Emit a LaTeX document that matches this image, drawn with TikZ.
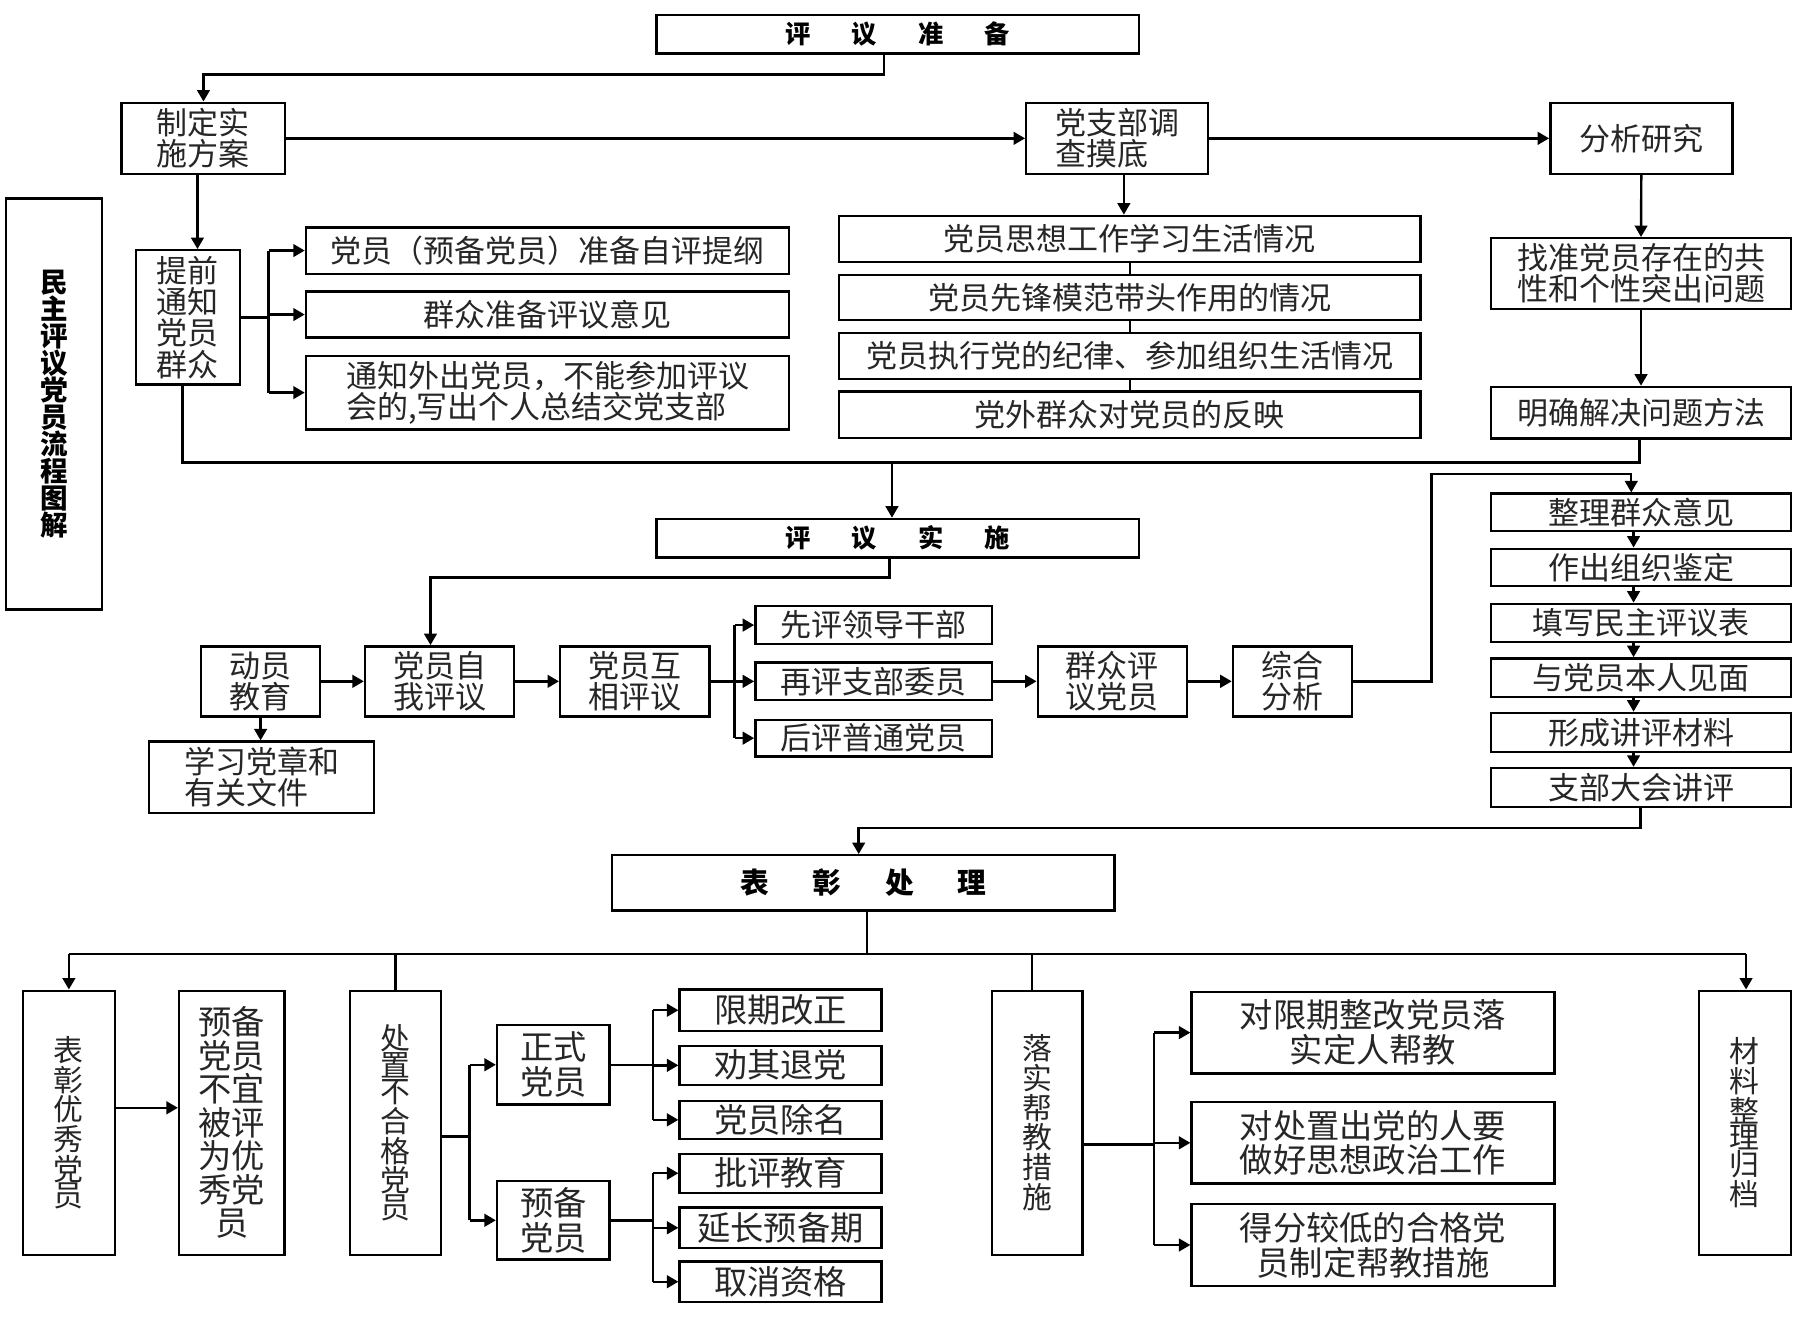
\documentclass[tikz,border=0pt]{standalone}
\usepackage{fontspec}
\setmainfont{Noto Sans CJK SC}
\usetikzlibrary{arrows.meta}
\newcommand{\tsp}{\hspace{18pt}}
\newcommand{\bsp}{\hspace{19pt}}
\newcommand{\bx}[7][]{\node[box,#1,minimum width={(#5-#3)*0.5pt},minimum height={(#6-#4)*0.5pt}] (#2) at ({(#3+#5)/2},{(#4+#6)/2}) {#7};}
\tikzset{
 box/.style={draw, line width=1.05pt, inner sep=0pt, align=center, font=\fontsize{13.5}{13.6}\selectfont, text=black!85},
 big/.style={font=\fontsize{14.5}{15.2}\selectfont},
 vt/.style={font=\fontsize{13}{11.6}\selectfont},
 title/.style={font=\bfseries\fontsize{11}{12}\selectfont, text=black},
 con/.style={line width=1.05pt},
 arr/.style={con, -{Triangle[length=5pt,width=5.5pt]}},
}
\begin{document}
\begin{tikzpicture}[x=0.5pt,y=-0.5pt]
\fill[white] (0,0) rectangle (1568,1153);
\useasboundingbox (0,0) rectangle (1568,1153);
% ---------- top section ----------
\bx[title]{pz}{572}{13}{992}{46.5}{评\tsp 议\tsp 准\tsp 备}
\bx{zd}{106}{89.5}{248.5}{151.5}{制定实\\施方案}
\bx[align=left]{dz}{894}{89.5}{1052.5}{151.5}{党支部调\\查摸底}
\bx{fx}{1350.5}{89.5}{1509}{151.5}{分析研究}
\bx{tq}{118.5}{218}{209}{335}{提前\\通知\\党员\\群众}
\bx{b1}{266.5}{198}{687.5}{238.5}{党员（预备党员）准备自评提纲}
\bx{b2}{266.5}{254}{687.5}{294}{群众准备评议意见}
\bx[align=left]{b3}{266.5}{310}{687.5}{374}{通知外出党员，不能参加评议\\会的,写出个人总结交党支部}
\bx{s1}{731}{188}{1237.5}{228}{党员思想工作学习生活情况}
\bx{s2}{731}{239.5}{1237.5}{279}{党员先锋模范带头作用的情况}
\bx{s3}{731}{290}{1237.5}{330}{党员执行党的纪律、参加组织生活情况}
\bx{s4}{731}{341}{1237.5}{381.5}{党外群众对党员的反映}
\bx{zz}{1299}{207.5}{1560}{269}{找准党员存在的共\\性和个性突出问题}
\bx{mq}{1299}{337}{1560}{382}{明确解决问题方法}
\bx[title,font=\bfseries\fontsize{12}{11.8}\selectfont]{mz}{5}{173}{89}{531}{民\\主\\评\\议\\党\\员\\流\\程\\图\\解}
% ---------- middle section ----------
\bx[title]{ss}{572}{452}{992}{485.5}{评\tsp 议\tsp 实\tsp 施}
\bx{dy}{175}{563}{279}{624}{动员\\教育}
\bx[align=left]{zw}{318}{563}{448}{624}{党员自\\我评议}
\bx[align=left]{hx}{488}{563}{618}{624}{党员互\\相评议}
\bx{p1}{658}{528}{864}{561}{先评领导干部}
\bx{p2}{658}{577}{864}{610}{再评支部委员}
\bx{p3}{658}{627}{864}{659}{后评普通党员}
\bx[align=left]{qz}{904}{563}{1034}{624}{群众评\\议党员}
\bx{zh}{1074}{563}{1177.5}{624}{综合\\分析}
\bx[align=left]{xx}{130}{646}{326}{708}{学习党章和\\有关文件}
\bx{r1}{1299}{430}{1560}{462.5}{整理群众意见}
\bx{r2}{1299}{478}{1560}{510.5}{作出组织鉴定}
\bx{r3}{1299}{526}{1560}{559}{填写民主评议表}
\bx{r4}{1299}{573.5}{1560}{607}{与党员本人见面}
\bx{r5}{1299}{621}{1560}{655}{形成讲评材料}
\bx{r6}{1299}{669}{1560}{703}{支部大会讲评}
% ---------- bottom section ----------
\bx[title,font=\bfseries\fontsize{12.5}{13}\selectfont]{bz}{533}{745}{971}{793}{表\bsp 彰\bsp 处\bsp 理}
\bx[vt]{by}{20}{863}{100}{1093}{表\\彰\\优\\秀\\党\\员}
\bx[big,font=\fontsize{14.5}{14.6}\selectfont]{yb}{156}{863}{248}{1093}{预备\\党员\\不宜\\被评\\为优\\秀党\\员}
\bx[vt]{cz}{305}{863}{384}{1093}{处\\置\\不\\合\\格\\党\\员}
\bx[big]{zs}{433}{893}{531}{962}{正式\\党员}
\bx[big]{yd}{433}{1029}{531}{1097}{预备\\党员}
\bx[big]{t1}{592}{862}{768}{898}{限期改正}
\bx[big]{t2}{592}{911}{768}{945}{劝其退党}
\bx[big]{t3}{592}{959}{768}{992}{党员除名}
\bx[big]{t4}{592}{1005}{768}{1039}{批评教育}
\bx[big]{t5}{592}{1052}{768}{1087}{延长预备期}
\bx[big]{t6}{592}{1099}{768}{1134}{取消资格}
\bx[vt]{ls}{864}{863}{943}{1093}{落\\实\\帮\\教\\措\\施}
\bx[big]{h1}{1038}{864}{1354}{935}{对限期整改党员落\\实定人帮教}
\bx[big]{h2}{1038}{960}{1354}{1031}{对处置出党的人要\\做好思想政治工作}
\bx[big]{h3}{1038}{1049}{1354}{1120}{得分较低的合格党\\员制定帮教措施}
\bx[vt]{cl}{1480}{863}{1560}{1093}{材\\料\\整\\理\\归\\档}
% ---------- connectors: top ----------
\draw[arr] (pz.south -| 770,0) -- ++(0,17.5) -| (zd.north);
\draw[arr] (zd.east) -- (dz.west);
\draw[arr] (dz.east) -- (fx.west);
\draw[arr] (zd.south -| 172,0) -- (tq.north -| 172,0);
\draw[con] (tq.east) -- (tq.east -| 234,0);
\draw[con] (b1.west -| 234,0) -- (b3.west -| 234,0);
\foreach \n in {b1,b2,b3} \draw[arr] (\n.west -| 234,0) -- (\n.west);
\draw[arr] (dz.south -| 979,0) -- (s1.north -| 979,0);
\draw[con] (s1.south) -- (s2.north);
\draw[con] (s2.south) -- (s3.north);
\draw[con] (s3.south) -- (s4.north);
\draw[arr] (fx.south) -- (zz.north);
\draw[arr] (zz.south) -- (mq.north);
\coordinate (m1) at (159,403);
\coordinate (m2) at (1428,403);
\coordinate (m3) at (777,403);
\draw[con] (tq.south -| m1) -- (m1) -- (m2) -- (mq.south -| m2);
\draw[arr] (m3) -- (ss.north -| m3);
% ---------- connectors: middle ----------
\coordinate (m4) at (775,503);
\draw[arr] (ss.south -| m4) -- (m4) -| (zw.north -| 375,0);
\draw[arr] (dy.east) -- (zw.west);
\draw[arr] (zw.east) -- (hx.west);
\draw[con] (hx.east) -- (hx.east -| 640,0);
\draw[con] (p1.west -| 640,0) -- (p3.west -| 640,0);
\foreach \n in {p1,p2,p3} \draw[arr] (\n.west -| 640,0) -- (\n.west);
\draw[arr] (p2.east) -- (qz.west);
\draw[arr] (qz.east) -- (zh.west);
\coordinate (m5) at (1247,413);
\coordinate (m6) at (1421,413);
\draw[arr] (zh.east) -| (m5) -- (m6) -- (r1.north -| m6);
\foreach \a/\b in {r1/r2,r2/r3,r3/r4,r4/r5,r5/r6} \draw[arr] (\a.south -| 1423,0) -- (\b.north -| 1423,0);
\draw[arr] (dy.south) -- (dy.south |- xx.north);
\coordinate (m7) at (1429,721.5);
\coordinate (m8) at (748,721.5);
\draw[arr] (r6.south -| m7) -- (m7) -- (m8) -- (bz.north -| m8);
% ---------- connectors: bottom ----------
\coordinate (n0) at (755,831);
\coordinate (nl) at (60,831);
\coordinate (nr) at (1521,831);
\coordinate (n1) at (899,831);
\draw[con] (bz.south -| n0) -- (n0);
\draw[con] (nl) -- (nr);
\draw[arr] (nl) -- (by.north -| nl);
\draw[con] (cz.north |- nl) -- (cz.north);
\draw[con] (n1) -- (ls.north -| n1);
\draw[arr] (nr) -- (cl.north -| nr);
\draw[arr] (by.east |- 0,965) -- (yb.west |- 0,965);
\coordinate (q1) at (409,990);
\draw[con] (cz.east |- q1) -- (q1);
\draw[con] (zs.west -| q1) -- (yd.west -| q1);
\foreach \n in {zs,yd} \draw[arr] (\n.west -| q1) -- (\n.west);
\draw[con] (zs.east) -- (zs.east -| 569,0);
\draw[con] (t1.west -| 569,0) -- (t3.west -| 569,0);
\foreach \n in {t1,t2,t3} \draw[arr] (\n.west -| 569,0) -- (\n.west);
\draw[con] (yd.east) -- (yd.east -| 569,0);
\draw[con] (t4.west -| 569,0) -- (t6.west -| 569,0);
\foreach \n in {t4,t5,t6} \draw[arr] (\n.west -| 569,0) -- (\n.west);
\coordinate (q2) at (1005.5,997);
\draw[con] (ls.east |- q2) -- (q2);
\draw[con] (h1.west -| q2) -- (h3.west -| q2);
\foreach \n in {h1,h2,h3} \draw[arr] (\n.west -| q2) -- (\n.west);
\end{tikzpicture}
\end{document}
